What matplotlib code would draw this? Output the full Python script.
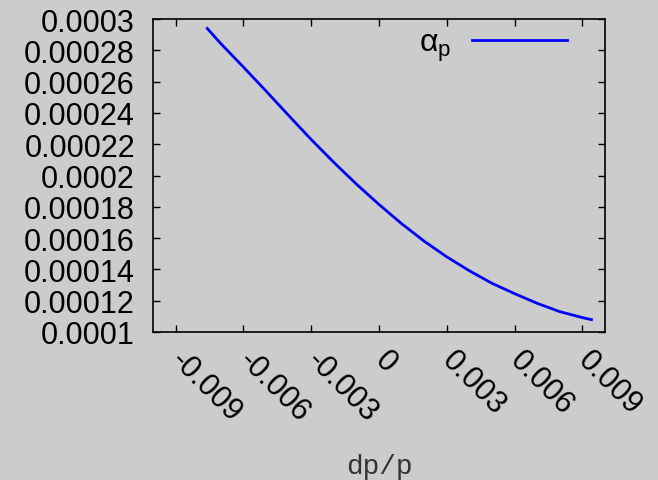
import matplotlib
matplotlib.use("Agg")
import matplotlib.pyplot as plt

# values
dp = [-0.0076, -0.007, -0.006, -0.005, -0.004, -0.003, -0.002, -0.001, 0.0,
      0.001, 0.002, 0.003, 0.004, 0.005, 0.006, 0.007, 0.008, 0.009, 0.0094]
alpha_p = [2.94e-4, 2.843e-4, 2.693e-4, 2.54e-4, 2.384e-4, 2.23e-4, 2.084e-4,
           1.945e-4, 1.815e-4, 1.692e-4, 1.58e-4, 1.48e-4, 1.391e-4, 1.311e-4,
           1.245e-4, 1.183e-4, 1.13e-4, 1.092e-4, 1.079e-4]

xticks = [-0.009, -0.006, -0.003, 0, 0.003, 0.006, 0.009]
xticklabels = ['-0.009', '-0.006', '-0.003', '0', '0.003', '0.006', '0.009']
yticks = [0.0001, 0.00012, 0.00014, 0.00016, 0.00018, 0.0002,
          0.00022, 0.00024, 0.00026, 0.00028, 0.0003]
yticklabels = ['0.0001', '0.00012', '0.00014', '0.00016', '0.00018', '0.0002',
               '0.00022', '0.00024', '0.00026', '0.00028', '0.0003']


def main():
    plt.rcParams['font.family'] = ['Liberation Sans', 'DejaVu Sans']
    bg = '#cccccc'

    fig = plt.figure(figsize=(6.58, 4.81), dpi=100, facecolor=bg)
    ax = fig.add_axes([0.2325, 0.3077, 0.687, 0.6507], facecolor=bg)

    ax.plot(dp, alpha_p, color='#0000ff', linewidth=2.0,
            label='α$_{\\mathregular{p}}$')

    ax.set_xlim(-0.01, 0.01)
    ax.set_ylim(0.0001, 0.0003)

    ax.set_xticks(xticks)
    ax.set_xticklabels(xticklabels)
    ax.set_yticks(yticks)
    ax.set_yticklabels(yticklabels)

    ax.tick_params(direction='in', length=5, width=1, top=True, right=True,
                   labelsize=22, colors='black')
    ax.tick_params(axis='y', pad=13)
    ax.tick_params(axis='x', pad=17)
    plt.setp(ax.get_xticklabels(), rotation=-45, ha='left', va='center',
             rotation_mode='anchor')

    for s in ax.spines.values():
        s.set_linewidth(1.2)
        s.set_color('black')

    ax.set_xlabel('dp/p', family='Liberation Mono', fontsize=20, labelpad=18,
                  color='#333333')

    ax.legend(loc='center right', bbox_to_anchor=(0.915, 0.915), frameon=False,
              markerfirst=False, fontsize=23, handlelength=2.95,
              handletextpad=0.65, borderpad=0, borderaxespad=0)

    fig.savefig('out.png', dpi=100, facecolor=bg)


if __name__ == "__main__":
    main()
